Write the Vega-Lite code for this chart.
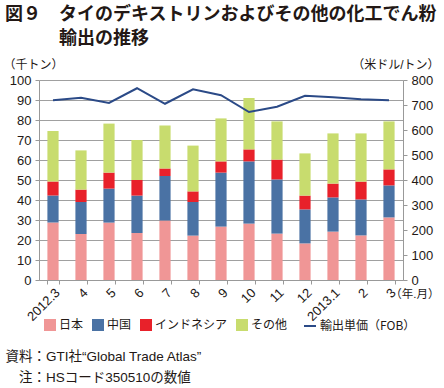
{
  "$schema": "https://vega.github.io/schema/vega-lite/v6.json",
  "width": 364,
  "height": 200,
  "autosize": {"type": "none"},
  "padding": {"left": 39, "top": 80, "right": 41, "bottom": 108},
  "background": "white",
  "config": {
    "font": "Liberation Sans, Noto Sans CJK JP",
    "view": {"stroke": null},
    "axis": {"labelColor": "#231815", "titleColor": "#231815", "labelFontSize": 13, "titleFontSize": 12, "titleFontWeight": "normal", "titleFont": "Liberation Sans, Noto Sans CJK JP"},
    "legend": {"labelColor": "#231815", "labelFontSize": 12, "labelFont": "Noto Sans CJK JP"}
  },
  "title": {
    "text": ["図９　タイのデキストリンおよびその他の化工でん粉", "\u200b　　　輸出の推移"],
    "anchor": "start",
    "frame": "group",
    "dx": -34,
    "offset": 10,
    "fontSize": 18,
    "font": "Noto Sans CJK JP",
    "fontWeight": "bold",
    "lineHeight": 24,
    "color": "#231815"
  },
  "layer": [
    {
      "data": {"values": [
        {"month": "2012.3", "series": "日本", "value": 28.7},
        {"month": "2012.3", "series": "中国", "value": 13.5},
        {"month": "2012.3", "series": "インドネシア", "value": 7.0},
        {"month": "2012.3", "series": "その他", "value": 25.3},
        {"month": "4", "series": "日本", "value": 23.0},
        {"month": "4", "series": "中国", "value": 16.0},
        {"month": "4", "series": "インドネシア", "value": 6.2},
        {"month": "4", "series": "その他", "value": 19.6},
        {"month": "5", "series": "日本", "value": 28.7},
        {"month": "5", "series": "中国", "value": 17.0},
        {"month": "5", "series": "インドネシア", "value": 8.0},
        {"month": "5", "series": "その他", "value": 24.5},
        {"month": "6", "series": "日本", "value": 23.5},
        {"month": "6", "series": "中国", "value": 18.7},
        {"month": "6", "series": "インドネシア", "value": 7.8},
        {"month": "6", "series": "その他", "value": 20.0},
        {"month": "7", "series": "日本", "value": 29.7},
        {"month": "7", "series": "中国", "value": 22.3},
        {"month": "7", "series": "インドネシア", "value": 3.8},
        {"month": "7", "series": "その他", "value": 21.5},
        {"month": "8", "series": "日本", "value": 22.2},
        {"month": "8", "series": "中国", "value": 16.8},
        {"month": "8", "series": "インドネシア", "value": 5.3},
        {"month": "8", "series": "その他", "value": 22.9},
        {"month": "9", "series": "日本", "value": 26.7},
        {"month": "9", "series": "中国", "value": 27.0},
        {"month": "9", "series": "インドネシア", "value": 5.6},
        {"month": "9", "series": "その他", "value": 21.5},
        {"month": "10", "series": "日本", "value": 28.2},
        {"month": "10", "series": "中国", "value": 31.1},
        {"month": "10", "series": "インドネシア", "value": 6.0},
        {"month": "10", "series": "その他", "value": 25.7},
        {"month": "11", "series": "日本", "value": 23.2},
        {"month": "11", "series": "中国", "value": 27.1},
        {"month": "11", "series": "インドネシア", "value": 9.9},
        {"month": "11", "series": "その他", "value": 19.1},
        {"month": "12", "series": "日本", "value": 18.3},
        {"month": "12", "series": "中国", "value": 17.0},
        {"month": "12", "series": "インドネシア", "value": 6.9},
        {"month": "12", "series": "その他", "value": 21.1},
        {"month": "2013.1", "series": "日本", "value": 24.2},
        {"month": "2013.1", "series": "中国", "value": 17.1},
        {"month": "2013.1", "series": "インドネシア", "value": 6.9},
        {"month": "2013.1", "series": "その他", "value": 25.1},
        {"month": "2", "series": "日本", "value": 22.3},
        {"month": "2", "series": "中国", "value": 18.0},
        {"month": "2", "series": "インドネシア", "value": 8.9},
        {"month": "2", "series": "その他", "value": 24.1},
        {"month": "3", "series": "日本", "value": 31.3},
        {"month": "3", "series": "中国", "value": 16.0},
        {"month": "3", "series": "インドネシア", "value": 8.0},
        {"month": "3", "series": "その他", "value": 24.0}
      ]},
      "mark": {"type": "bar"},
      "encoding": {
        "x": {
          "field": "month", "type": "ordinal", "sort": null,
          "scale": {"paddingInner": 0.6, "paddingOuter": 0.3},
          "axis": {
            "title": "（年.月）", "titleX": 400, "titleY": 14, "titleAlign": "right", "titleAngle": 0, "titleBaseline": "middle", "titleFontSize": 11.5,
            "labelAngle": -45, "tickBand": "extent", "domainColor": "#999999", "tickColor": "#999999", "tickSize": 4, "labelPadding": 2, "grid": false
          }
        },
        "y": {
          "field": "value", "type": "quantitative", "stack": "zero",
          "scale": {"domain": [0, 100]},
          "axis": {
            "title": "（千トン）", "titleAngle": 0, "titleX": -36, "titleY": -16, "titleAlign": "left", "titleBaseline": "middle",
            "values": [0, 10, 20, 30, 40, 50, 60, 70, 80, 90, 100],
            "grid": true, "gridColor": "#a0a0a0", "domainColor": "#999999", "tickColor": "#999999", "tickSize": 4, "labelPadding": 4
          }
        },
        "color": {
          "field": "series", "type": "nominal",
          "sort": ["日本", "中国", "インドネシア", "その他"],
          "scale": {
            "domain": ["日本", "中国", "インドネシア", "その他"],
            "range": ["#F09696", "#4A72A4", "#E8212A", "#C8DC6E"]
          },
          "legend": {
            "title": null, "orient": "none", "legendX": 5, "legendY": 239, "direction": "horizontal",
            "symbolSize": 144, "labelOffset": 3, "columnPadding": 8, "symbolType": "square", "symbolStrokeWidth": 0
          }
        }
      }
    },
    {
      "data": {"values": [
        {"month": "2012.3", "price": 719},
        {"month": "4", "price": 729},
        {"month": "5", "price": 708},
        {"month": "6", "price": 767},
        {"month": "7", "price": 705},
        {"month": "8", "price": 763},
        {"month": "9", "price": 739},
        {"month": "10", "price": 672},
        {"month": "11", "price": 693},
        {"month": "12", "price": 737},
        {"month": "2013.1", "price": 731},
        {"month": "2", "price": 723},
        {"month": "3", "price": 719}
      ]},
      "mark": {"type": "line", "strokeWidth": 2},
      "encoding": {
        "x": {
          "field": "month", "type": "ordinal", "sort": null,
          "axis": {
            "orient": "bottom", "labels": false, "ticks": false, "domain": false, "grid": false,
            "title": ["資料：GTI社“Global Trade Atlas”", "\u200b　注：HSコード350510の数値"],
            "titleX": -34, "titleY": 69, "titleAlign": "left", "titleAngle": 0, "titleBaseline": "top",
            "titleLineHeight": 21, "titleFontSize": 13.5
          }
        },
        "y": {
          "field": "price", "type": "quantitative",
          "scale": {"domain": [0, 800]},
          "axis": {
            "orient": "right", "title": "（米ドル/トン）", "titleAngle": 0, "titleX": 36, "titleY": -16, "titleAlign": "right", "titleBaseline": "middle",
            "values": [0, 100, 200, 300, 400, 500, 600, 700, 800],
            "grid": false, "domainColor": "#999999", "tickColor": "#999999", "tickSize": 4, "labelPadding": 4
          }
        },
        "stroke": {
          "datum": "輸出単価（FOB）", "type": "nominal",
          "scale": {"domain": ["輸出単価（FOB）"], "range": ["#2B4A87"]},
          "legend": {
            "title": null, "orient": "none", "legendX": 264, "legendY": 239,
            "symbolType": "stroke", "symbolSize": 144, "symbolStrokeWidth": 2, "labelOffset": 3
          }
        }
      }
    }
  ],
  "resolve": {"scale": {"y": "independent"}, "axis": {"x": "independent"}}
}
